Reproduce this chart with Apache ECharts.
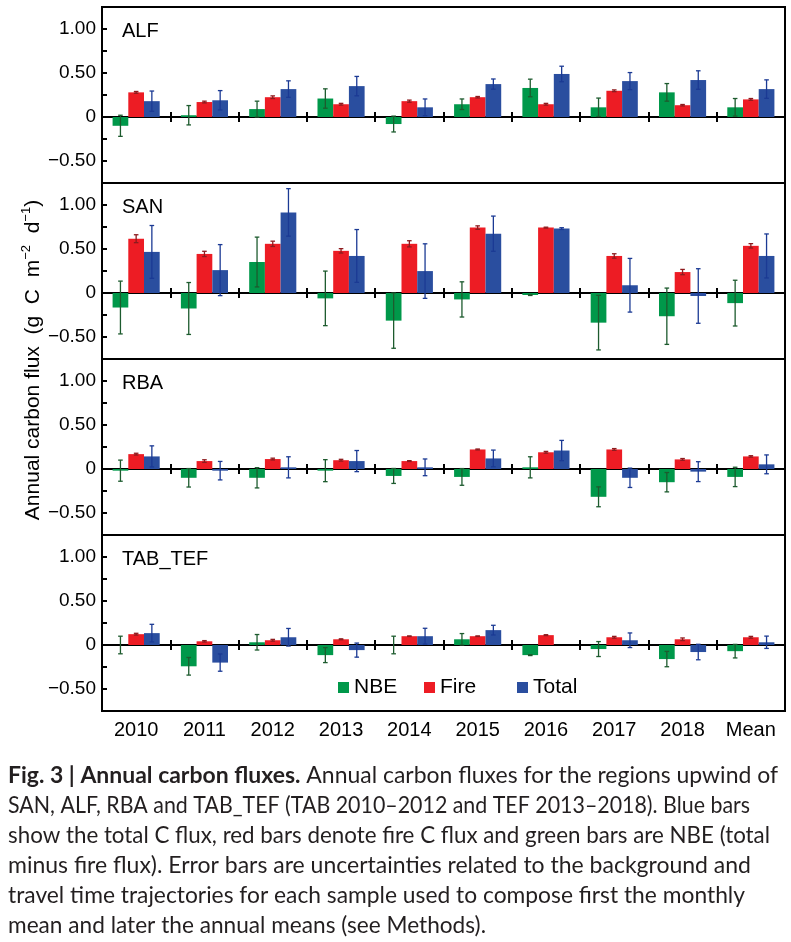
<!DOCTYPE html>
<html><head><meta charset="utf-8">
<script src="https://cdn.jsdelivr.net/npm/echarts@6/dist/echarts.min.js"></script>
<style>html,body{margin:0;padding:0;background:#fff}#c{width:791px;height:942px}</style>
</head><body><div id="c"></div>
<script>
// ---------- data ----------
const categories = ['2010','2011','2012','2013','2014','2015','2016','2017','2018','Mean'];
const seriesNames = ['NBE','Fire','Total'];
const panelNames = ['ALF','SAN','RBA','TAB_TEF'];
const yTickLabels = {'1': '1.00', '0.5': '0.50', '0': '0', '-0.5': '\u22120.50'};

const alfNBE      = [-0.10, 0.02, 0.09, 0.21, -0.08, 0.145, 0.33, 0.11, 0.28, 0.11];
const alfNBEErr   = [0.12, 0.11, 0.09, 0.11, 0.09, 0.06, 0.10, 0.105, 0.10, 0.10];
const alfFire     = [0.28, 0.17, 0.225, 0.145, 0.18, 0.225, 0.145, 0.298, 0.134, 0.20];
const alfFireErr  = [0.01, 0.01, 0.015, 0.01, 0.012, 0.008, 0.01, 0.01, 0.008, 0.01];
const alfTotal    = [0.18, 0.19, 0.317, 0.351, 0.11, 0.374, 0.489, 0.408, 0.42, 0.317];
const alfTotalErr = [0.115, 0.11, 0.094, 0.11, 0.095, 0.058, 0.088, 0.097, 0.105, 0.105];

const sanNBE      = [-0.165, -0.176, 0.352, -0.061, -0.314, -0.073, -0.023, -0.337, -0.264, -0.115];
const sanNBEErr   = [0.30, 0.295, 0.283, 0.31, 0.314, 0.20, 0.005, 0.31, 0.32, 0.26];
const sanFire     = [0.617, 0.444, 0.559, 0.479, 0.559, 0.743, 0.743, 0.421, 0.238, 0.536];
const sanFireErr  = [0.045, 0.03, 0.03, 0.025, 0.035, 0.02, 0.005, 0.025, 0.03, 0.025];
const sanTotal    = [0.467, 0.26, 0.916, 0.421, 0.249, 0.674, 0.732, 0.088, -0.034, 0.421];
const sanTotalErr = [0.30, 0.29, 0.27, 0.30, 0.31, 0.20, 0.01, 0.305, 0.31, 0.25];

const rbaNBE      = [-0.019, -0.10, -0.10, -0.019, -0.079, -0.09, 0.019, -0.316, -0.15, -0.09];
const rbaNBEErr   = [0.12, 0.105, 0.115, 0.125, 0.085, 0.095, 0.12, 0.113, 0.11, 0.11];
const rbaFire     = [0.169, 0.09, 0.113, 0.10, 0.09, 0.222, 0.19, 0.222, 0.109, 0.143];
const rbaFireErr  = [0.01, 0.015, 0.01, 0.01, 0.005, 0.005, 0.01, 0.01, 0.01, 0.008];
const rbaTotal    = [0.143, -0.019, 0.019, 0.09, 0.019, 0.12, 0.21, -0.10, -0.03, 0.053];
const rbaTotalErr = [0.12, 0.105, 0.12, 0.12, 0.095, 0.095, 0.115, 0.11, 0.113, 0.107];

const tabNBE      = [0.0, -0.242, 0.031, -0.115, 0.0, 0.065, -0.115, -0.046, -0.16, -0.07];
const tabNBEErr   = [0.10, 0.10, 0.088, 0.085, 0.10, 0.065, 0.005, 0.085, 0.087, 0.077];
const tabFire     = [0.123, 0.042, 0.054, 0.065, 0.10, 0.10, 0.112, 0.088, 0.065, 0.088];
const tabFireErr  = [0.01, 0.008, 0.01, 0.005, 0.003, 0.003, 0.005, 0.01, 0.015, 0.01];
const tabTotal    = [0.135, -0.20, 0.088, -0.058, 0.10, 0.169, 0.0, 0.054, -0.08, 0.031];
const tabTotalErr = [0.10, 0.098, 0.10, 0.08, 0.09, 0.055, 0.0, 0.083, 0.088, 0.07];

const captionLines = [
  ['Fig. 3 | Annual carbon fluxes.', ' Annual carbon fluxes for the regions upwind of'],
  ['', 'SAN, ALF, RBA and TAB_TEF (TAB 2010\u20132012 and TEF 2013\u20132018). Blue bars'],
  ['', 'show the total C flux, red bars denote fire C flux and green bars are NBE (total'],
  ['', 'minus fire flux). Error bars are uncertainties related to the background and'],
  ['', 'travel time trajectories for each sample used to compose first the monthly'],
  ['', 'mean and later the annual means (see Methods).']
];

// ---------- layout / style ----------
const panels = [
  {values:[alfNBE, alfFire, alfTotal], errs:[alfNBEErr, alfFireErr, alfTotalErr]},
  {values:[sanNBE, sanFire, sanTotal], errs:[sanNBEErr, sanFireErr, sanTotalErr]},
  {values:[rbaNBE, rbaFire, rbaTotal], errs:[rbaNBEErr, rbaFireErr, rbaTotalErr]},
  {values:[tabNBE, tabFire, tabTotal], errs:[tabNBEErr, tabFireErr, tabTotalErr]}
];
const BAR_COLORS = ['#00984A', '#ED1C24', '#2A4E9F'];
const WHISK_COLORS = ['#1D5B2E', '#8E1B1E', '#1B3A94'];
const gridTops = [7, 183, 359, 535];
const GRID_H = 176, GRID_L = 102, GRID_R = 6;
const CAT_GAP = 0.31;
const FONT = 'Liberation Sans, Arial, sans-serif';
const CAP_FONT = 'Lato';
const CAP_FS = 23;
const captionTargets = [770, 742, 762, 743, 737, 478];

function yFmt(v) {
  const k = String(Math.round(v * 100) / 100);
  return yTickLabels[k] !== undefined ? yTickLabels[k] : '';
}

function renderErr(params, api) {
  const i = api.value(0), s = api.value(1), v = api.value(2), e = api.value(3);
  if (!e) return null;
  const band = api.size([1, 0])[0];
  const bw = band * (1 - CAT_GAP) / 3;
  const cx = api.coord([i, v])[0] + (s - 1) * bw;
  const yt = api.coord([i, v + e])[1];
  const yb = api.coord([i, v - e])[1];
  const c = WHISK_COLORS[s];
  const hw = 2.3;
  const st = {stroke: c, lineWidth: 1.3};
  return {type: 'group', children: [
    {type: 'line', shape: {x1: cx, y1: yt, x2: cx, y2: yb}, style: st},
    {type: 'line', shape: {x1: cx - hw, y1: yt, x2: cx + hw, y2: yt}, style: st},
    {type: 'line', shape: {x1: cx - hw, y1: yb, x2: cx + hw, y2: yb}, style: st}
  ]};
}

const grid = [], xAxis = [], yAxis = [], series = [], graphic = [];
const axisLineStyle = {color: '#000', width: 2};

panels.forEach((p, k) => {
  grid.push({left: GRID_L, right: GRID_R, top: gridTops[k], height: GRID_H, show: true,
    borderColor: '#000', borderWidth: 2, backgroundColor: 'transparent'});
  yAxis.push({type: 'value', gridIndex: k, min: -0.75, max: 1.25, interval: 0.25,
    axisLine: {show: true, onZero: false, lineStyle: axisLineStyle},
    axisTick: {show: true, inside: true, length: 5, lineStyle: axisLineStyle},
    splitLine: {show: false},
    axisLabel: {margin: 6, color: '#000', fontSize: 19, fontFamily: FONT, formatter: yFmt,
      showMinLabel: true, showMaxLabel: true}});
  const xi = xAxis.length;
  xAxis.push({type: 'category', gridIndex: k, data: categories, position: 'bottom',
    axisLine: {show: true, onZero: true, onZeroAxisIndex: k, lineStyle: axisLineStyle},
    axisTick: {show: true, inside: true, length: 5, lineStyle: axisLineStyle},
    axisLabel: {show: false}, splitLine: {show: false}});
  xAxis.push({type: 'category', gridIndex: k, data: categories, position: 'top',
    axisLine: {show: true, onZero: true, onZeroAxisIndex: k, lineStyle: axisLineStyle},
    axisTick: {show: true, inside: true, length: 5, lineStyle: axisLineStyle},
    axisLabel: {show: false}, splitLine: {show: false}});
  if (k === panels.length - 1) {
    xAxis.push({type: 'category', gridIndex: k, data: categories, position: 'bottom',
      axisLine: {show: false, onZero: false}, axisTick: {show: false}, splitLine: {show: false},
      axisLabel: {show: true, margin: 9, color: '#000', fontSize: 20, fontFamily: FONT}});
  }
  seriesNames.forEach((name, s) => {
    series.push({type: 'bar', name: name, xAxisIndex: xi, yAxisIndex: k, data: p.values[s],
      barGap: '0%', barCategoryGap: (CAT_GAP * 100) + '%',
      itemStyle: {color: BAR_COLORS[s]}, silent: true, z: 2});
  });
  const errData = [];
  categories.forEach((c, i) => {
    for (let s = 0; s < 3; s++) errData.push([i, s, p.values[s][i], p.errs[s][i]]);
  });
  series.push({type: 'custom', xAxisIndex: xi, yAxisIndex: k, data: errData,
    encode: {x: 0, y: 2}, renderItem: renderErr, silent: true, z: 4});

  graphic.push({type: 'text', x: 122, y: gridTops[k] + 24, z: 10,
    style: {text: panelNames[k], fontSize: 20, fontFamily: FONT, fill: '#000',
      align: 'left', verticalAlign: 'middle'}});
});

// Y-axis title
graphic.push({type: 'text', x: 33, y: 360, rotation: Math.PI / 2, z: 10,
  style: {text: 'Annual carbon flux  (g  C  m{sup|\u22122}  d{sup|\u22121})',
    fontSize: 21, fontFamily: FONT, fill: '#000', align: 'center', verticalAlign: 'middle',
    lineHeight: 26,
    rich: {sup: {fontSize: 13, fontFamily: FONT, fill: '#000', verticalAlign: 'top', lineHeight: 13}}}});

// Caption
const mctx = document.createElement('canvas').getContext('2d');
function textW(t, bold) {
  mctx.font = (bold ? 'bold ' : '') + CAP_FS + 'px ' + CAP_FONT;
  return mctx.measureText(t).width;
}
captionLines.forEach((ln, i) => {
  const natural = textW(ln[0], true) + textW(ln[1], false);
  const sx = captionTargets[i] / natural;
  const txt = (ln[0] ? '{b|' + ln[0] + '}' : '') + ln[1];
  graphic.push({type: 'text', x: 8, y: 776 + 30 * i, scaleX: sx, originX: 0, z: 10,
    style: {text: txt, fontSize: CAP_FS, fontFamily: CAP_FONT, fill: '#231F20',
      align: 'left', verticalAlign: 'middle',
      rich: {b: {fontSize: CAP_FS, fontFamily: CAP_FONT, fontWeight: 'bold', fill: '#231F20'}}}});
});

const legendBase = {orient: 'horizontal', top: 677, padding: 0, icon: 'rect',
  itemWidth: 11, itemHeight: 11, selectedMode: false,
  textStyle: {fontSize: 21, fontFamily: FONT, color: '#000'}};
const legendLefts = [338, 424, 517];
const legend = seriesNames.map((n, s) => Object.assign({}, legendBase, {left: legendLefts[s], data: [n]}));

const chart = echarts.init(document.getElementById('c'), null, {renderer: 'canvas'});
chart.setOption({animation: false, backgroundColor: '#fff', grid, xAxis, yAxis, series, legend, graphic});
</script></body></html>
